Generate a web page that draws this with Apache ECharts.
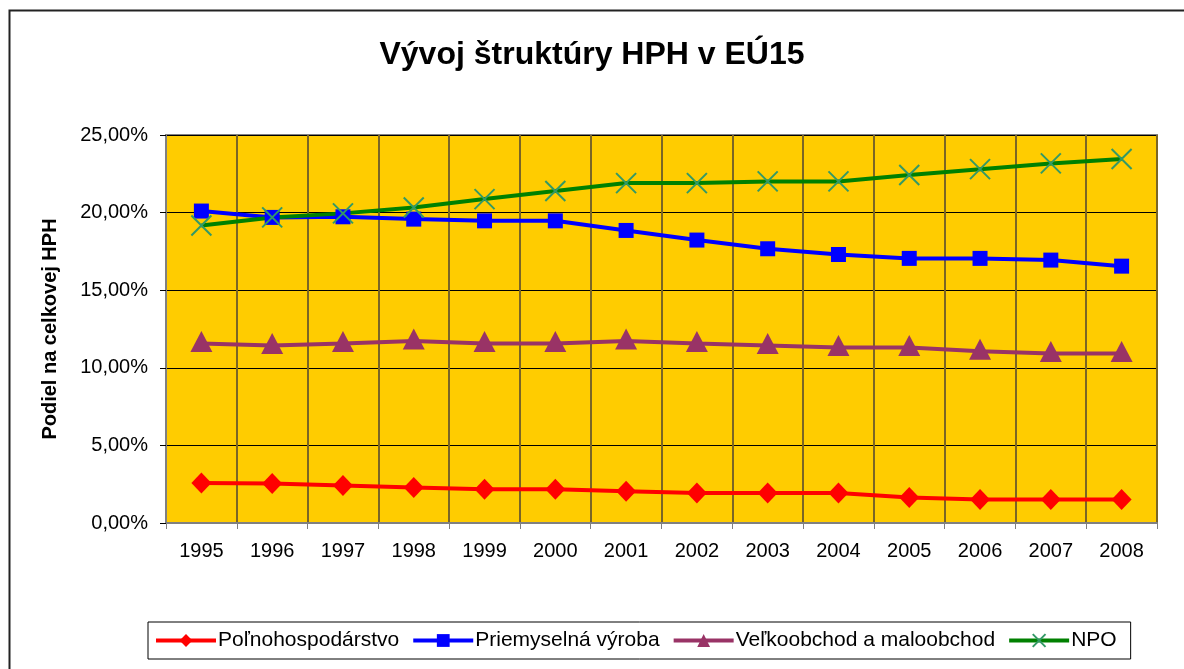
<!DOCTYPE html>
<html>
<head>
<meta charset="utf-8">
<script src="https://cdn.jsdelivr.net/npm/echarts@6/dist/echarts.min.js"></script>
<style>
html, body { margin: 0; padding: 0; background: #fff; }
#chart { width: 1184px; height: 669px; }
</style>
</head>
<body>
<div id="chart"></div>
<script>
// roky a podiely (v %) odčítané z grafu
var years = ['1995', '1996', '1997', '1998', '1999', '2000', '2001', '2002', '2003', '2004', '2005', '2006', '2007', '2008'];
var polnohospodarstvo = [2.58, 2.55, 2.41, 2.28, 2.17, 2.17, 2.04, 1.93, 1.93, 1.93, 1.64, 1.51, 1.51, 1.51];
var priemysel = [20.1, 19.69, 19.73, 19.58, 19.47, 19.47, 18.85, 18.23, 17.67, 17.30, 17.05, 17.05, 16.94, 16.55];
var obchod = [11.57, 11.44, 11.57, 11.72, 11.57, 11.57, 11.72, 11.57, 11.44, 11.31, 11.31, 11.07, 10.92, 10.92];
var npo = [19.17, 19.69, 19.95, 20.33, 20.87, 21.39, 21.9, 21.9, 22.01, 22.01, 22.42, 22.8, 23.17, 23.45];
var yTicks = [0, 5, 10, 15, 20, 25];

var chart = echarts.init(document.getElementById('chart'));

var font = '"Liberation Sans", Arial, sans-serif';

var option = {
    animation: false,
    textStyle: { fontFamily: font, color: '#000' },
    title: {
        text: 'Vývoj štruktúry HPH v EÚ15',
        left: 'center',
        top: 34,
        textStyle: { fontFamily: font, fontSize: 32, fontWeight: 'bold', color: '#000' }
    },
    graphic: [{
        type: 'rect',
        shape: { x: 9.5, y: 10.5, width: 1300, height: 800 },
        style: { fill: 'none', stroke: '#222', lineWidth: 2 },
        z: -10
    }],
    legend: {
        left: 148,
        top: 622,
        padding: [8, 14, 8, 6],
        itemGap: 12,
        itemWidth: 60,
        itemHeight: 16,
        borderColor: '#000',
        borderWidth: 1,
        backgroundColor: '#fff',
        lineStyle: { width: 4 },
        textStyle: { fontFamily: font, fontSize: 21, color: '#000', padding: [0, 0, 0, -3] },
        data: ['Poľnohospodárstvo', 'Priemyselná výroba', 'Veľkoobchod a maloobchod', 'NPO']
    },
    grid: {
        left: 166,
        right: 27,
        top: 135,
        bottom: 146,
        show: true,
        backgroundColor: '#FFCC00',
        borderColor: '#808080',
        borderWidth: 2
    },
    xAxis: {
        type: 'category',
        data: years,
        boundaryGap: true,
        axisLine: { lineStyle: { color: '#808080', width: 2 } },
        axisTick: { show: true, length: 6, lineStyle: { color: '#808080', width: 1 } },
        axisLabel: { fontFamily: font, fontSize: 20, color: '#000', margin: 18 },
        splitLine: { show: true, lineStyle: { color: '#7a6526', width: 2 } }
    },
    yAxis: {
        type: 'value',
        min: yTicks[0],
        max: yTicks[yTicks.length - 1],
        interval: 5,
        name: 'Podiel na celkovej HPH',
        nameLocation: 'middle',
        nameGap: 106,
        nameTextStyle: { fontFamily: font, fontSize: 20, fontWeight: 'bold', color: '#000' },
        axisLine: { show: true, lineStyle: { color: '#808080', width: 2 } },
        axisTick: { show: true, length: 6, lineStyle: { color: '#000', width: 1 } },
        axisLabel: {
            fontFamily: font, fontSize: 20, color: '#000', margin: 18,
            formatter: function (v) { return v.toFixed(2).replace('.', ',') + '%'; }
        },
        splitLine: { show: true, lineStyle: { color: '#000', width: 1 } }
    },
    series: [
        {
            name: 'Poľnohospodárstvo',
            type: 'line',
            data: polnohospodarstvo,
            symbol: 'diamond',
            symbolSize: [20, 21],
            lineStyle: { color: '#FF0000', width: 4 },
            itemStyle: { color: '#FF0000' }
        },
        {
            name: 'Priemyselná výroba',
            type: 'line',
            data: priemysel,
            symbol: 'rect',
            symbolSize: 15,
            lineStyle: { color: '#0000FF', width: 4 },
            itemStyle: { color: '#0000FF' }
        },
        {
            name: 'Veľkoobchod a maloobchod',
            type: 'line',
            data: obchod,
            symbol: 'triangle',
            symbolSize: [22, 21],
            symbolOffset: [0, -2],
            lineStyle: { color: '#993366', width: 4 },
            itemStyle: { color: '#993366' }
        },
        {
            name: 'NPO',
            type: 'line',
            data: npo,
            symbol: 'path://M0,0L20,20M20,0L0,20',
            symbolSize: 20,
            lineStyle: { color: '#008000', width: 4 },
            itemStyle: { color: 'rgba(0,0,0,0)', borderColor: '#339966', borderWidth: 2 }
        }
    ]
};

chart.setOption(option);
</script>
</body>
</html>
